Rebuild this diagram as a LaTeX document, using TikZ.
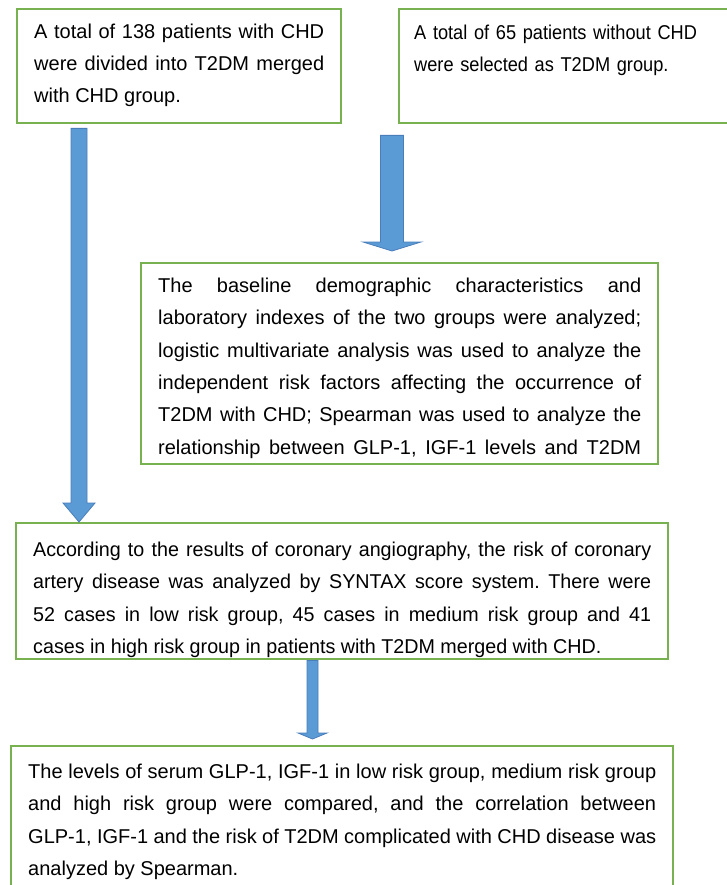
\documentclass[tikz,border=0pt]{standalone}
\usepackage{fontspec}
\setmainfont{Liberation Sans}
\newfontfamily\narrowfont[FakeStretch=0.91]{Liberation Sans}
\newfontfamily\semifont[FakeStretch=0.985]{Liberation Sans}
\usetikzlibrary{calc}
\definecolor{boxgreen}{HTML}{77B150}
\definecolor{arrowfill}{HTML}{5B9BD5}
\definecolor{arrowline}{HTML}{4A7EBB}
\hyphenpenalty=10000
\tolerance=10000
\frenchspacing

% block arrow: start, tip, half shaft, half head, head length
\newcommand{\blockarrow}[5]{%
  \draw[blockarrow] let \p1=(#1), \p2=(#2) in
    (\x1-#3,\y1) -- (\x1-#3,\y2+#5) -- (\x1-#4,\y2+#5) -- (\x1,\y2)
    -- (\x1+#4,\y2+#5) -- (\x1+#3,\y2+#5) -- (\x1+#3,\y1) -- cycle;}

\begin{document}
\begin{tikzpicture}[x=1pt, y=-1pt,
    flowbox/.style={draw=boxgreen, line width=2.4pt, anchor=north west,
      inner xsep=17pt, inner ysep=0pt, align=justify,
      font=\fontsize{20pt}{32.4pt}\selectfont},
    narrow/.style={font=\narrowfont\fontsize{20pt}{32.4pt}\selectfont},
    semi/.style={font=\semifont\fontsize{20pt}{32.4pt}\selectfont},
    blockarrow/.style={draw=arrowline, fill=arrowfill, line width=0.8pt}]
  \useasboundingbox[fill=white] (0,0) rectangle (727,885);

  % ==================== top: the two groups ====================
  \node[flowbox, text width=290pt, text height=29pt, text depth=85pt] (chd) at (16,8)
    {A total of 138 patients with CHD\linebreak were divided into T2DM merged\linebreak with CHD group.};
  \node[flowbox, narrow, align=left, inner xsep=15pt, text width=317pt, text height=30pt, text depth=84pt] (noch) at (398,8)
    {A total of 65 patients without CHD\\were selected as T2DM group.};

  % ==================== middle: analysis ====================
  \node[flowbox, text width=483pt, text height=29pt, text depth=172pt] (base) at (140,262)
    {The baseline demographic characteristics and\linebreak
     laboratory indexes of the two groups were analyzed;\linebreak
     logistic multivariate analysis was used to analyze the\linebreak
     independent risk factors affecting the occurrence of\linebreak
     T2DM with CHD; Spearman was used to analyze the\linebreak
     relationship between GLP-1, IGF-1 levels and T2DM\parfillskip=0pt\par};

  \node[flowbox, semi, text width=618pt, text height=33pt, text depth=103pt] (syntax) at (15,522)
    {According to the results of coronary angiography, the risk of coronary\linebreak
     artery disease was analyzed by SYNTAX score system. There were\linebreak
     52 cases in low risk group, 45 cases in medium risk group and 41\linebreak
     cases in high risk group in patients with T2DM merged with CHD.};

  % ==================== bottom: comparison ====================
  \node[flowbox, text width=628pt, text height=32pt, text depth=130pt] (levels) at (10,745)
    {The levels of serum GLP-1, IGF-1 in low risk group, medium risk group\linebreak
     and high risk group were compared, and the correlation between\linebreak
     GLP-1, IGF-1 and the risk of T2DM complicated with CHD disease was\linebreak
     analyzed by Spearman.};

  % arrows (start just below a box, tip on the next one)
  \coordinate (a1s) at ($(chd.south west)+(63,4)$);
  \coordinate (a1e) at (syntax.north -| a1s);
  \coordinate (a2s) at ($(noch.south west)+(-6,11)$);
  \coordinate (a2e) at ($(base.north -| a2s)+(0,-11)$);
  \coordinate (a3s) at (syntax.south -| 312.5,0);
  \coordinate (a3e) at ($(levels.north -| a3s)+(0,-6)$);

  \blockarrow{a1s}{a1e}{8pt}{16pt}{19pt}
  \blockarrow{a2s}{a2e}{11.5pt}{29pt}{9pt}
  \blockarrow{a3s}{a3e}{5.5pt}{14.5pt}{6pt}
\end{tikzpicture}
\end{document}
